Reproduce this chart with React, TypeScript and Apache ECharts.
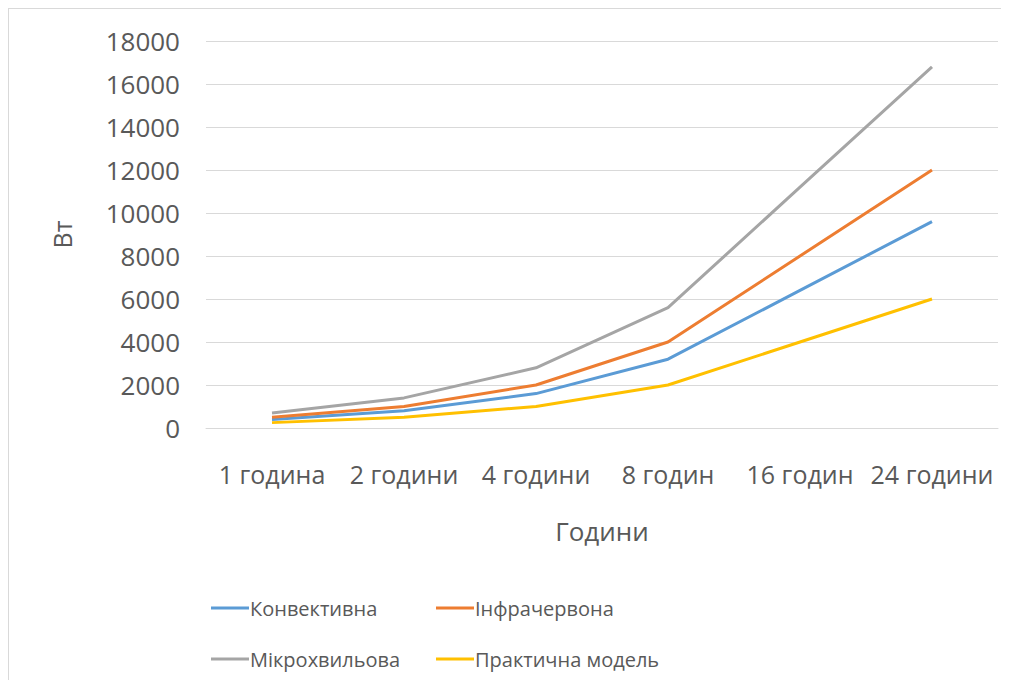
import React, { useEffect, useRef } from "react";
import * as echarts from "echarts";

const categories = ["1 година", "2 години", "4 години", "8 годин", "16 годин", "24 години"];
const convective = [400, 800, 1600, 3200, 6400, 9600];
const infrared = [500, 1000, 2000, 4000, 8000, 12000];
const microwave = [700, 1400, 2800, 5600, 11200, 16800];
const practical = [250, 500, 1000, 2000, 4000, 6000];
const yTicks = { min: 0, max: 18000, interval: 2000 };

const FONT = "'Open Sans', 'Noto Sans', sans-serif";
const TXT = "#595959";

export default function App() {
  const ref = useRef<HTMLDivElement>(null);
  useEffect(() => {
    if (!ref.current) return;
    const chart = echarts.init(ref.current, null, { renderer: "svg" });
    const mk = (name: string, data: number[], color: string) => ({
      name,
      type: "line",
      data,
      symbol: "none",
      lineStyle: { color, width: 3 },
      itemStyle: { color },
    });
    const legendBase = {
      orient: "vertical",
      icon: "rect",
      itemWidth: 38,
      itemHeight: 3,
      itemGap: 31,
      textStyle: { fontFamily: FONT, fontSize: 20, color: TXT, padding: [0, 0, 0, -4] },
      top: 589,
      padding: 0,
    };
    chart.setOption({
      animation: false,
      grid: { left: 197, top: 32, width: 792, height: 387, containLabel: false },
      xAxis: {
        type: "category",
        data: categories,
        boundaryGap: true,
        name: "Години",
        nameLocation: "middle",
        nameGap: 90,
        nameTextStyle: { fontFamily: FONT, fontSize: 26, color: TXT },
        axisLine: { show: true, lineStyle: { color: "#d9d9d9", width: 1 } },
        axisTick: { show: false },
        axisLabel: { fontFamily: FONT, fontSize: 25, color: TXT, margin: 33, interval: 0 },
      },
      yAxis: {
        type: "value",
        min: yTicks.min,
        max: yTicks.max,
        interval: yTicks.interval,
        name: "Вт",
        nameLocation: "middle",
        nameGap: 132,
        nameTextStyle: { fontFamily: FONT, fontSize: 25, color: TXT },
        axisLine: { show: false },
        axisTick: { show: false },
        splitLine: { lineStyle: { color: "#d9d9d9", width: 1 } },
        axisLabel: {
          fontFamily: FONT,
          fontSize: 26,
          color: TXT,
          margin: 26,
          formatter: (v: number) => String(v),
        },
      },
      legend: [
        { ...legendBase, left: 202, data: ["Конвективна", "Мікрохвильова"] },
        { ...legendBase, left: 427, data: ["Інфрачервона", "Практична модель"] },
      ],
      series: [
        mk("Конвективна", convective, "#5B9BD5"),
        mk("Інфрачервона", infrared, "#ED7D31"),
        mk("Мікрохвильова", microwave, "#A5A5A5"),
        mk("Практична модель", practical, "#FFC000"),
      ],
    });
    return () => chart.dispose();
  }, []);
  return (
    <div
      style={{
        width: 1001,
        height: 672,
        boxSizing: "border-box",
        borderTop: "1px solid #d9d9d9",
        borderLeft: "1px solid #d9d9d9",
        background: "#fff",
      }}
    >
      <div ref={ref} style={{ width: 1000, height: 671 }} />
    </div>
  );
}
